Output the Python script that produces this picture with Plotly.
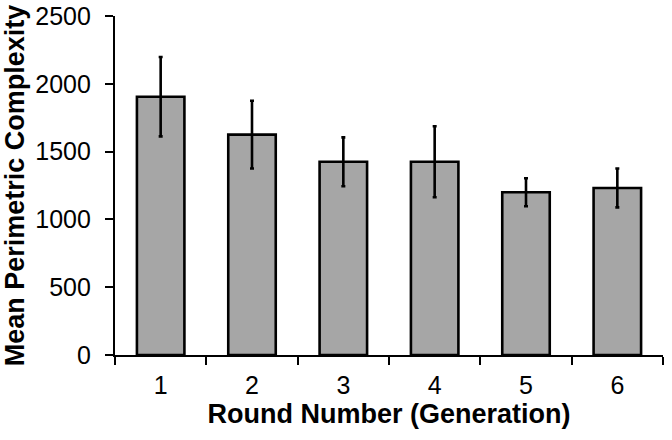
import plotly.graph_objects as go

rounds = ["1", "2", "3", "4", "5", "6"]
mean_complexity = [1905, 1625, 1425, 1425, 1200, 1232]
error_values = [293, 250, 180, 262, 103, 143]
y_ticks = [0, 500, 1000, 1500, 2000, 2500]

FONT = "Liberation Sans, Arial, sans-serif"

fig = go.Figure(
    go.Bar(
        x=rounds,
        y=mean_complexity,
        marker=dict(color="#a6a6a6", line=dict(color="black", width=2.6)),
        error_y=dict(type="data", array=error_values, visible=True,
                     color="black", thickness=2.6, width=2),
        hoverinfo="skip",
    )
)

fig.update_layout(
    width=672, height=440,
    margin=dict(l=115, r=9, t=16, b=85, autoexpand=False),
    paper_bgcolor="white", plot_bgcolor="white",
    bargap=0.48,
    showlegend=False,
    font=dict(family=FONT, color="black", size=25),
)

fig.update_xaxes(
    type="category",
    range=[-0.5, 5.5],
    automargin=False,
    showline=True, linecolor="black", linewidth=2.2,
    ticks="outside", tickson="boundaries", ticklen=8, tickwidth=2.2, tickcolor="black",
    tickfont=dict(size=25, family=FONT),
    ticklabelstandoff=7,
    ticklabeloverflow="allow",
    showgrid=False, zeroline=False,
    title=dict(text="<b>Round Number (Generation)</b>", font=dict(size=27, family=FONT), standoff=6),
)

fig.update_yaxes(
    range=[0, 2500],
    automargin=False,
    tickvals=y_ticks,
    ticktext=[str(v) for v in y_ticks],
    showline=True, linecolor="black", linewidth=2.2,
    ticks="outside", ticklen=8, tickwidth=2.2, tickcolor="black",
    tickfont=dict(size=25, family=FONT),
    ticklabelstandoff=9,
    ticklabeloverflow="allow",
    showgrid=False, zeroline=False,
    title=dict(text="<b>Mean Perimetric Complexity</b>", font=dict(size=27, family=FONT), standoff=5),
)

fig.write_html("out.html", config={"displayModeBar": False},
               post_script="document.body.style.margin='0';")
